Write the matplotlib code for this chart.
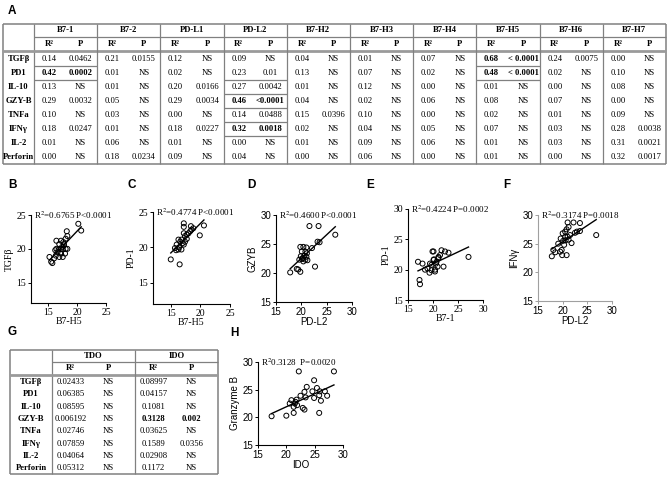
import numpy as np
import matplotlib.pyplot as plt

SERIF = 'Liberation Serif'
SANS = 'Liberation Sans'
W, H = 669, 488
plt.rcParams['mathtext.fontset'] = 'stix'

# == panel A table ===============================================
markers = ['B7-1', 'B7-2', 'PD-L1', 'PD-L2', 'B7-H2', 'B7-H3', 'B7-H4', 'B7-H5', 'B7-H6', 'B7-H7']
cytokines = ['TGFβ', 'PD1', 'IL-10', 'GZY-B', 'TNFa', 'IFNγ', 'IL-2', 'Perforin']
r2_A = [
    [0.14, 0.21, 0.12, 0.09, 0.04, 0.01, 0.07, 0.68, 0.24, 0.00],
    [0.42, 0.01, 0.02, 0.23, 0.13, 0.07, 0.02, 0.48, 0.02, 0.10],
    [0.13, 0.01, 0.20, 0.27, 0.01, 0.12, 0.00, 0.01, 0.00, 0.08],
    [0.29, 0.05, 0.29, 0.46, 0.04, 0.02, 0.06, 0.08, 0.07, 0.00],
    [0.10, 0.03, 0.00, 0.14, 0.15, 0.10, 0.00, 0.02, 0.01, 0.09],
    [0.18, 0.01, 0.18, 0.32, 0.02, 0.04, 0.05, 0.07, 0.03, 0.28],
    [0.01, 0.06, 0.01, 0.00, 0.01, 0.09, 0.06, 0.01, 0.03, 0.31],
    [0.00, 0.18, 0.09, 0.04, 0.00, 0.06, 0.00, 0.01, 0.00, 0.32],
]
p_A = [
    ['0.0462', '0.0155', 'NS', 'NS', 'NS', 'NS', 'NS', '< 0.0001', '0.0075', 'NS'],
    ['0.0002', 'NS', 'NS', '0.01', 'NS', 'NS', 'NS', '< 0.0001', 'NS', 'NS'],
    ['NS', 'NS', '0.0166', '0.0042', 'NS', 'NS', 'NS', 'NS', 'NS', 'NS'],
    ['0.0032', 'NS', '0.0034', '<0.0001', 'NS', 'NS', 'NS', 'NS', 'NS', 'NS'],
    ['NS', 'NS', 'NS', '0.0488', '0.0396', 'NS', 'NS', 'NS', 'NS', 'NS'],
    ['0.0247', 'NS', '0.0227', '0.0018', 'NS', 'NS', 'NS', 'NS', 'NS', '0.0038'],
    ['NS', 'NS', 'NS', 'NS', 'NS', 'NS', 'NS', 'NS', 'NS', '0.0021'],
    ['NS', '0.0234', 'NS', 'NS', 'NS', 'NS', 'NS', 'NS', 'NS', '0.0017'],
]
bold_A = [(1, 0), (3, 3), (5, 3), (0, 7), (1, 7)]

# == panel G table ===============================================
enzymes = ['TDO', 'IDO']
r2_G = [['0.02433', '0.08997'], ['0.06385', '0.04157'], ['0.08595', '0.1081'],
        ['0.006192', '0.3128'], ['0.02746', '0.03625'], ['0.07859', '0.1589'],
        ['0.04064', '0.02908'], ['0.05312', '0.1172']]
p_G = [['NS', 'NS'], ['NS', 'NS'], ['NS', 'NS'], ['NS', '0.002'],
       ['NS', 'NS'], ['NS', '0.0356'], ['NS', 'NS'], ['NS', 'NS']]
bold_G = [(3, 1)]

# == scatter data ================================================
b_x = [20.2, 20.7, 18.2, 18.3, 16.4, 17.2, 17.6, 18.0, 17.7, 16.9, 16.4, 16.8, 17.2, 17.5, 18.0,
       16.2, 16.6, 17.2, 17.9, 17.5, 16.9, 16.3, 16.0, 15.2, 15.5, 15.7, 18.3, 17.4, 17.7]
b_y = [23.7, 22.7, 22.6, 21.9, 21.2, 21.2, 21.0, 21.5, 20.7, 20.7, 20.0, 19.9, 20.0, 19.9, 20.0,
       19.8, 19.5, 19.3, 19.3, 18.8, 18.8, 19.0, 18.6, 18.8, 18.1, 17.9, 20.0, 20.3, 20.5]
c_x = [17.2, 17.2, 18.4, 18.5, 20.6, 19.9, 17.2, 18.0, 18.3, 17.4, 16.8, 16.3, 16.6, 17.0,
       17.4, 17.7, 16.0, 15.7, 16.3, 16.8, 16.4, 15.0, 16.5, 18.8, 17.7, 17.2, 15.9]
c_y = [23.4, 22.9, 23.0, 22.5, 23.1, 21.7, 22.0, 22.0, 22.3, 21.6, 21.1, 21.1, 20.8, 20.6,
       20.8, 21.2, 20.4, 19.9, 19.7, 19.7, 20.0, 18.3, 17.6, 22.7, 21.8, 20.4, 19.6]
d_x = [17.8, 19.1, 19.4, 19.8, 19.6, 19.9, 20.1, 19.8, 20.4, 21.0, 20.8, 20.6, 21.1, 20.3,
       20.8, 21.2, 21.6, 23.4, 22.7, 23.2, 23.6, 22.1, 26.7, 21.0, 20.1, 20.4]
d_y = [20.1, 20.7, 20.6, 20.2, 22.3, 22.9, 23.7, 24.5, 24.5, 24.4, 23.7, 23.0, 23.4, 22.6,
       22.3, 22.2, 28.1, 28.1, 21.1, 25.4, 25.3, 24.3, 26.6, 22.8, 22.4, 22.0]
e_x = [17.3, 17.4, 20.1, 19.7, 19.4, 20.4, 20.9, 19.9, 20.1, 21.1, 21.7, 22.4, 23.1, 22.1,
       27.1, 20.7, 20.4, 19.7, 20.2, 21.4, 18.9, 19.3, 18.4, 20.6, 21.1, 17.9, 17.0]
e_y = [18.3, 17.6, 21.6, 19.9, 21.0, 19.7, 20.5, 23.0, 23.0, 22.1, 23.2, 23.0, 22.8, 20.5,
       22.1, 21.3, 20.0, 20.8, 21.7, 22.4, 20.2, 19.5, 20.0, 21.0, 21.9, 21.0, 21.3]
f_x = [17.8, 19.5, 19.8, 19.9, 20.8, 20.3, 20.1, 20.6, 21.2, 21.8, 21.0, 21.5, 20.0, 20.5,
       20.8, 21.2, 21.0, 22.2, 23.5, 22.9, 23.5, 22.5, 26.8, 18.1, 18.5, 19.6, 20.5, 19.1]
f_y = [22.8, 23.6, 23.9, 23.0, 23.0, 24.8, 25.5, 25.6, 25.7, 25.1, 26.2, 26.5, 26.8, 27.1,
       27.5, 27.9, 28.7, 28.7, 28.6, 27.1, 27.2, 26.9, 26.5, 23.9, 23.5, 25.9, 26.2, 25.0]
h_x = [17.4, 20.0, 21.3, 22.2, 28.4, 24.9, 23.6, 25.4, 23.2, 24.6, 25.9, 26.8, 27.2, 25.8,
       22.5, 23.4, 24.9, 20.9, 21.8, 20.6, 21.5, 21.9, 21.6, 22.9, 23.2, 26.1, 25.8, 21.3]
h_y = [20.2, 20.3, 20.8, 28.3, 28.3, 26.7, 25.5, 25.3, 24.6, 24.7, 24.7, 24.7, 23.9, 24.0,
       23.9, 23.6, 23.5, 23.1, 23.2, 22.5, 22.5, 22.2, 22.8, 21.7, 21.4, 23.0, 20.8, 21.9]

fig = plt.figure(figsize=(W / 100, H / 100), dpi=100)
bg = fig.add_axes([0, 0, 1, 1])
bg.set_xlim(0, W)
bg.set_ylim(H, 0)
bg.axis('off')

GRID = '#808080'


def hline(y, x0, x1, lw=0.9, color=GRID):
    bg.plot([x0, x1], [y, y], color=color, lw=lw, solid_capstyle='butt')


def vline(x, y0, y1, lw=0.9, color=GRID):
    bg.plot([x, x], [y0, y1], color=color, lw=lw, solid_capstyle='butt')


def cell(x, y, s, bold=False, size=6.2):
    bg.text(x, y, s, ha='center', va='center', fontsize=size, family=SERIF,
            fontweight='bold' if bold else 'normal')


def draw_table(x0, xlab, x1, y_top, y_h1, y_h2, row_h, groups, names, r2, pv, bolds,
               sub=(0.24, 0.74), emph=None):
    n = len(names)
    y_bot = y_h2 + 1 + n * row_h
    gw = (x1 - xlab) / len(groups)
    # outer frame and grid
    hline(y_top, x0, x1, lw=1.1)
    hline(y_bot, x0, x1, lw=1.1)
    vline(x0, y_top, y_bot, lw=1.1)
    vline(x1, y_top, y_bot, lw=1.1)
    vline(xlab, y_top, y_bot)
    hline(y_h1, xlab, x1)
    hline(y_h2, x0, x1, lw=2.0, color='#9a9a9a')
    for g in range(1, len(groups)):
        vline(xlab + g * gw, y_top, y_bot)
    for g, name in enumerate(groups):
        gx = xlab + g * gw
        cell(gx + gw / 2, (y_top + y_h1) / 2, name, bold=True)
        cell(gx + gw * sub[0], (y_h1 + y_h2) / 2, 'R²', bold=True)
        cell(gx + gw * sub[1], (y_h1 + y_h2) / 2, 'P', bold=True)
    for i, name in enumerate(names):
        yc = y_h2 + 1 + (i + 0.5) * row_h
        cell((x0 + xlab) / 2, yc, name, bold=True)
        for g in range(len(groups)):
            gx = xlab + g * gw
            b = (i, g) in bolds
            v = r2[i][g]
            cell(gx + gw * sub[0], yc, v if isinstance(v, str) else f'{v:.2f}', bold=b)
            cell(gx + gw * sub[1], yc, pv[i][g], bold=b)
    # lines boxing the highlighted cells
    if emph:
        for g, bounds in emph.items():
            gx = xlab + g * gw
            for k in bounds:
                hline(y_h2 + 1 + k * row_h, gx, gx + gw)


draw_table(3, 34, 666, 24, 37, 51, 14, markers, cytokines, r2_A, p_A, bold_A,
           emph={0: [1, 2], 3: [2, 3, 4, 5, 6], 7: [1, 2]})
draw_table(10, 52, 218, 350, 362, 375, 12.3, enzymes, cytokines, r2_G, p_G, bold_G,
           sub=(0.22, 0.68))

# panel letters
for letter, (lx, ly) in zip('ABCDEFGH', [(8, 11), (8, 185), (128, 185), (247, 185),
                                        (366, 185), (503, 185), (8, 332), (230, 333)]):
    bg.text(lx, ly, letter, fontsize=8.5, fontweight='bold', family=SANS, ha='left', va='center')


def scatter_panel(box, xs, ys, xlim, ylim, ticks, xlabel, ylabel, note, font, axcolor='black'):
    x0, x1, y0, y1 = box
    ax = fig.add_axes([x0 / W, 1 - y1 / H, (x1 - x0) / W, (y1 - y0) / H])
    ax.scatter(xs, ys, s=13, facecolors='none', edgecolors='black', linewidths=0.7, zorder=3)
    k, b = np.polyfit(xs, ys, 1)
    lx = np.array([min(xs), max(xs)])
    ax.plot(lx, k * lx + b, color='black', lw=1.0, zorder=2)
    ax.set_xlim(*xlim)
    ax.set_ylim(*ylim)
    ax.set_xticks(ticks[0])
    ax.set_yticks(ticks[1])
    for s in ['top', 'right']:
        ax.spines[s].set_visible(False)
    for s in ['left', 'bottom']:
        ax.spines[s].set_color(axcolor)
        ax.spines[s].set_linewidth(0.8)
    ax.tick_params(length=2.5, width=0.7, pad=1, labelsize=7, color=axcolor)
    for lab in ax.get_xticklabels() + ax.get_yticklabels():
        lab.set_family(font)
    ax.set_xlabel(xlabel, fontsize=7, family=font, labelpad=0)
    ax.set_ylabel(ylabel, fontsize=7, family=font, labelpad=2)
    ax.text(0.04, 1.0, note, transform=ax.transAxes, fontsize=6.5, family=SERIF,
            ha='left', va='center')
    ax.patch.set_alpha(0)
    return ax


scatter_panel((31, 106, 215, 303), b_x, b_y, (12, 25), (12, 25), ([15, 20, 25], [15, 20, 25]),
              'B7-H5', 'TGFβ', 'R$^2$=0.6765 P<0.0001', SERIF)
scatter_panel((153, 230, 212, 304), c_x, c_y, (12, 25), (12, 25), ([15, 20, 25], [15, 20, 25]),
              'B7-H5', 'PD-1', 'R$^2$=0.4774 P<0.0001', SERIF)
scatter_panel((276, 352, 215, 302), d_x, d_y, (15, 30), (15, 30), ([15, 20, 25, 30], [15, 20, 25, 30]),
              'PD-L2', 'GZYB', 'R$^2$=0.4600 P<0.0001', SANS)
scatter_panel((408, 483, 209, 300), e_x, e_y, (15, 30), (15, 30), ([15, 20, 25, 30], [15, 20, 25, 30]),
              'B7-1', 'PD-1', 'R$^2$=0.4224 P=0.0002', SERIF)
scatter_panel((538, 612, 215, 301), f_x, f_y, (15, 30), (15, 30), ([15, 20, 25, 30], [15, 20, 25, 30]),
              'PD-L2', 'IFNγ', 'R$^2$=0.3174 P=0.0018', SANS, axcolor='#a0a0a0')
scatter_panel((258, 343, 362, 445), h_x, h_y, (15, 30), (15, 30), ([15, 20, 25, 30], [15, 20, 25, 30]),
              'IDO', 'Granzyme B', 'R$^2$0.3128  P=0.0020', SANS)

fig.savefig('out.png', dpi=100)
